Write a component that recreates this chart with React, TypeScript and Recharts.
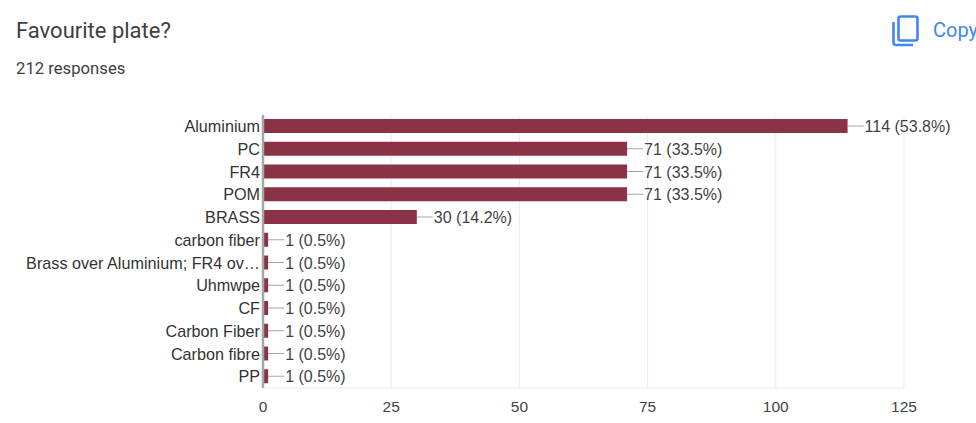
import { BarChart, Bar, XAxis, YAxis, CartesianGrid, LabelList } from 'recharts';

const categories = [
  'Aluminium',
  'PC',
  'FR4',
  'POM',
  'BRASS',
  'carbon fiber',
  'Brass over Aluminium; FR4 ov…',
  'Uhmwpe',
  'CF',
  'Carbon Fiber',
  'Carbon fibre',
  'PP',
];
const counts = [114, 71, 71, 71, 30, 1, 1, 1, 1, 1, 1, 1];
const percents = ['53.8', '33.5', '33.5', '33.5', '14.2', '0.5', '0.5', '0.5', '0.5', '0.5', '0.5', '0.5'];
const xTicks = [0, 25, 50, 75, 100, 125];

const data = categories.map((name, i) => ({ name, count: counts[i], label: `${counts[i]} (${percents[i]}%)` }));

const FONT = 'Arial, "Liberation Sans", sans-serif';

// leader line + value text to the right of each bar
function BarLabel(props: any) {
  const { x, y, width, height, index } = props;
  const end = x + width;
  const mid = y + height / 2;
  return (
    <g>
      <line x1={end} x2={end + 16} y1={mid} y2={mid} stroke="#a6a6a6" strokeWidth={1} />
      <text x={end + 17} y={mid + 6} fontSize={16} fontFamily={FONT} fill="#424242">
        {data[index].label}
      </text>
    </g>
  );
}

export default function App() {
  return (
    <div style={{ position: 'absolute', left: 0, top: 0, width: 976, height: 423, overflow: 'hidden', background: '#fff' }}>
      <div style={{ position: 'absolute', left: 16, top: 18, fontFamily: 'Roboto', fontSize: 22, lineHeight: '26px', color: '#3c4043', whiteSpace: 'nowrap' }}>
        Favourite plate?
      </div>
      <div style={{ position: 'absolute', left: 16, top: 59, fontFamily: 'Roboto', fontSize: 16.7, lineHeight: '20px', color: '#3c4043', whiteSpace: 'nowrap' }}>
        212 responses
      </div>
      <svg style={{ position: 'absolute', left: 892, top: 15 }} width={28} height={32} viewBox="0 0 28 32" fill="none" stroke="#4285f4" strokeWidth={2.6}>
        <rect x={6.5} y={1.5} width={19} height={24} rx={2} />
        <path d="M1.5 7 V27.5 a2.5 2.5 0 0 0 2.5 2.5 H21" />
      </svg>
      <div style={{ position: 'absolute', left: 933, top: 18, fontFamily: 'Roboto', fontSize: 20, lineHeight: '24px', color: '#4285f4', whiteSpace: 'nowrap' }}>
        Copy
      </div>
      <BarChart
        width={976}
        height={423}
        data={data}
        layout="vertical"
        barSize={14}
        margin={{ top: 115, right: 72, bottom: 0, left: 0 }}
      >
        <CartesianGrid horizontal={false} stroke="#ebebeb" />
        <XAxis
          type="number"
          domain={[0, 125]}
          ticks={xTicks}
          height={35}
          axisLine={{ stroke: '#ebebeb' }}
          tickLine={false}
          tickMargin={7}
          tick={{ fontSize: 15.5, fontFamily: FONT, fill: '#444444' }}
        />
        <YAxis
          type="category"
          dataKey="name"
          width={263}
          interval={0}
          axisLine={{ stroke: '#a6a6a6', strokeWidth: 2.5 }}
          tickLine={false}
          tickSize={0}
          tickMargin={3}
          tick={{ fontSize: 16.2, fontFamily: FONT, fill: '#333333' }}
        />
        <Bar dataKey="count" fill="#8a3344" isAnimationActive={false}>
          <LabelList dataKey="label" content={BarLabel} />
        </Bar>
      </BarChart>
    </div>
  );
}
